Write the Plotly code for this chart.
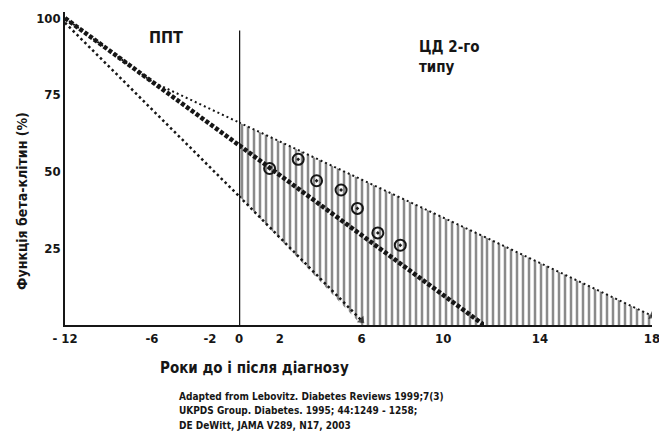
import plotly.graph_objects as go

# ---- data (years relative to diagnosis, beta-cell function %) ----
main_x = [-12, 0, 12]
main_y = [100, 58.6, 0]

upper_x = [-12, -6, 0, 12, 18]
upper_y = [100, 79.3, 66, 28.8, 3]

lower_x = [-12, 0, 6]
lower_y = [98.5, 42, 1.5]

shade_top_x = [0, 12, 18]
shade_top_y = [66, 28.8, 3]
shade_bot_x = [0, 6, 12, 18]
shade_bot_y = [42, 0, 0, 0]

ukpds_x = [1.5, 2.9, 3.8, 5.0, 5.8, 6.8, 7.9]
ukpds_y = [51, 54, 47, 44, 38, 30, 26]

x_ticks = [-12, -6, -2, 0, 2, 6, 10, 14, 18]
x_ticktext = ["- 12", "-6", "-2", "0", "2", "6", "10", "14", "18"]
y_ticks = [25, 50, 75, 100]

# broken x axis: three pieces drawn at different scales
SEGMENTS = [("x", -12, 0), ("x2", 0, 12), ("x3", 12, 18)]

W, H = 659, 431
L, R, T, B = 65, 7, 12, 106
PW, PH = W - L - R, H - T - B


def px_x(p):
    return (p - L) / PW


def px_y(p):
    return (H - B - p) / PH


dom_edges = [0, px_x(239), px_x(484), 1]

FONT = "Liberation Sans Narrow, DejaVu Sans Condensed, Arial Narrow, sans-serif"
INK = "#161616"


def pieces(xs, ys):
    for ax, lo, hi in SEGMENTS:
        pts = [(x, y) for x, y in zip(xs, ys) if lo <= x <= hi]
        yield ax, pts


fig = go.Figure()

# shaded band
top = list(zip(shade_top_x, shade_top_y))
bot = list(zip(shade_bot_x, shade_bot_y))
for ax, lo, hi in SEGMENTS:
    t = [p for p in top if lo <= p[0] <= hi]
    b = [p for p in bot if lo <= p[0] <= hi]
    if len(t) < 2:
        continue
    poly = t + b[::-1]
    fig.add_trace(go.Scatter(
        x=[p[0] for p in poly], y=[p[1] for p in poly], xaxis=ax, yaxis="y",
        mode="lines", fill="toself", line=dict(width=0),
        fillcolor="rgba(0,0,0,0)",
        fillpattern=dict(shape="|", size=6, solidity=0.42, fgcolor=INK, bgcolor="white"),
        hoverinfo="skip", showlegend=False))


def add_line(xs, ys, width, dash, arrow=False):
    segs = [(ax, pts) for ax, pts in pieces(xs, ys) if len(pts) >= 2]
    for i, (ax, pts) in enumerate(segs):
        last = i == len(segs) - 1
        sizes = [0] * len(pts)
        if arrow and last:
            sizes[-1] = 8
        fig.add_trace(go.Scatter(
            x=[p[0] for p in pts], y=[p[1] for p in pts], xaxis=ax, yaxis="y",
            mode="lines+markers",
            line=dict(color=INK, width=width, dash=dash),
            marker=dict(size=sizes, symbol="triangle-up", angleref="previous",
                        color=INK, line=dict(width=0)),
            hoverinfo="skip", showlegend=False))


add_line(upper_x, upper_y, 2, "2px,3px", arrow=True)
add_line(lower_x, lower_y, 2.5, "2.5px,3px", arrow=True)
add_line(main_x, main_y, 4.5, "4px,2px")

fig.add_trace(go.Scatter(
    x=ukpds_x, y=ukpds_y, xaxis="x2", yaxis="y", mode="markers",
    marker=dict(symbol="circle-open-dot", size=11, color=INK, line=dict(width=2)),
    showlegend=False, hoverinfo="skip"))

# vertical line at diagnosis
fig.add_shape(type="line", xref="x2", yref="y", x0=0, x1=0, y0=-2, y1=96,
              line=dict(color=INK, width=2.5))

tickfont = dict(family=FONT, size=13, color=INK, weight="bold")
layout = dict(
    width=W, height=H, margin=dict(l=L, r=R, t=T, b=B, autoexpand=False),
    plot_bgcolor="white", paper_bgcolor="white", showlegend=False,
    yaxis=dict(range=[0, 102], tickvals=y_ticks, showgrid=False, zeroline=False,
               showline=True, linecolor=INK, linewidth=1.5, ticks="",
               tickfont=tickfont, anchor="x", fixedrange=True, automargin=False),
)
for i, (ax, lo, hi) in enumerate(SEGMENTS):
    key = "xaxis" if i == 0 else "xaxis%d" % (i + 1)
    tv = [v for v in x_ticks if lo <= v <= hi and not (i > 0 and v == lo)]
    tt = [x_ticktext[x_ticks.index(v)] for v in tv]
    layout[key] = dict(domain=[dom_edges[i], dom_edges[i + 1]], range=[lo, hi],
                       anchor="y", tickvals=tv, ticktext=tt, showgrid=False,
                       zeroline=False, showline=True, linecolor=INK, linewidth=2,
                       ticks="", tickfont=tickfont, fixedrange=True, automargin=False,
                       ticklabeloverflow="allow")
fig.update_layout(**layout)

ann = [
    dict(text="ППТ", x=px_x(166), y=px_y(38), size=16),
    dict(text="ЦД 2-го<br>типу", x=px_x(417), y=px_y(57), size=15, align="left",
         xanchor="left"),
    dict(text="Роки до і після діагнозу", x=px_x(255), y=px_y(368), size=15),
]
for a in ann:
    fig.add_annotation(text=a["text"], x=a["x"], y=a["y"], xref="paper", yref="paper",
                       xanchor=a.get("xanchor", "center"), yanchor="middle",
                       showarrow=False, align=a.get("align", "center"),
                       font=dict(family=FONT, size=a["size"], color=INK, weight="bold"))

fig.add_annotation(text="Функція бета-клітин (%)", textangle=-90,
                   x=px_x(22), y=px_y(201), xref="paper", yref="paper", showarrow=False,
                   xanchor="center", yanchor="middle",
                   font=dict(family=FONT, size=14, color=INK, weight="bold"))

cites = ["Adapted from Lebovitz. Diabetes Reviews 1999;7(3)",
         "UKPDS Group. Diabetes. 1995; 44:1249 - 1258;",
         "DE DeWitt, JAMA V289, N17, 2003"]
for k, c in enumerate(cites):
    fig.add_annotation(text=c, x=px_x(177), y=px_y(396 + 14.5 * k), xref="paper",
                       yref="paper", xanchor="left", yanchor="middle", showarrow=False,
                       font=dict(family=FONT, size=10, color=INK, weight="bold"))

fig.write_html("out.html", config={"displayModeBar": False},
               post_script="document.body.style.margin='0';")
